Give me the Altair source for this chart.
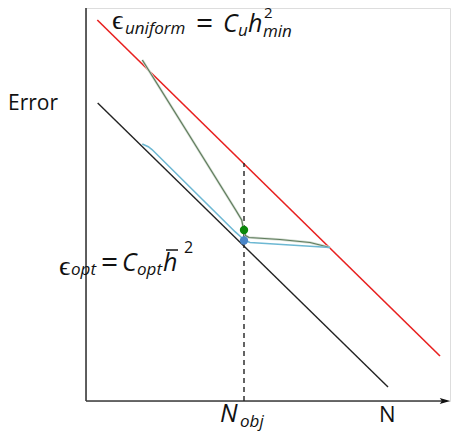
import altair as alt
import pandas as pd

# ---- data (abstract units: N to the right, Error upward) ----
red_n = [11.3, 354]
red_e = [381, 45]
black_n = [11.7, 302]
black_e = [298, 14]
grey_n = [56.3, 100, 150, 155.7, 157.5, 159.5, 163, 194, 224, 244]
grey_e = [341, 271, 190.5, 181, 172, 165.5, 163.5, 161.5, 158.5, 153.5]
blue_n = [56.3, 59, 62.3, 66, 149, 155, 159, 164, 204, 244]
blue_e = [257, 255.8, 254.3, 251.5, 169.3, 164, 160.5, 158.5, 156, 153.5]
n_obj = [158]
n_obj_top = [238]
green_pt = [158, 171]
blue_pt = [158, 160.5]
x_max = [364]
y_max = [393]

OX, OY = 86, 8  # plot origin in the page

W, H = 364, 393
xs = alt.Scale(domain=[0, W], nice=False, zero=False)
ys = alt.Scale(domain=[0, H], nice=False, zero=False)
X = lambda f: alt.X(f, type="quantitative", scale=xs, axis=None)
Y = lambda f: alt.Y(f, type="quantitative", scale=ys, axis=None)


def line_df(ns, es):
    return pd.DataFrame({"n": ns, "e": es, "i": range(len(ns))})


axes_df = pd.DataFrame({"n": [0, 0], "e": [0, 0], "n2": [x_max[0] - 3, 0], "e2": [0, y_max[0]]})
axes = alt.Chart(axes_df).mark_rule(color="#3a3a3a", strokeWidth=1.6).encode(
    x=X("n"), y=Y("e"), x2="n2", y2="e2")
arrow = alt.Chart(pd.DataFrame({"n": [x_max[0] - 5], "e": [0]})).mark_point(
    shape="M-1,-0.55L1,0L-1,0.55L-0.6,0Z", filled=True, color="#111", size=110, opacity=1
).encode(x=X("n"), y=Y("e"))

red = alt.Chart(line_df(red_n, red_e)).mark_line(color="#e8201f", strokeWidth=1.6).encode(
    x=X("n"), y=Y("e"), order="i")
black = alt.Chart(line_df(black_n, black_e)).mark_line(color="#222222", strokeWidth=1.4).encode(
    x=X("n"), y=Y("e"), order="i")

dash_df = pd.DataFrame({"n": n_obj, "e": [0], "e2": n_obj_top})
dashed = alt.Chart(dash_df).mark_rule(color="#222", strokeWidth=1.4, strokeDash=[5, 4]).encode(
    x=X("n"), y=Y("e"), y2="e2")

grey_halo = alt.Chart(line_df(grey_n, grey_e)).mark_line(
    color="#d3ddd2", strokeWidth=2.4).encode(x=X("n"), y=Y("e"), order="i")
grey = alt.Chart(line_df(grey_n, grey_e)).mark_line(
    color="#5f7b5c", strokeWidth=1.2).encode(x=X("n"), y=Y("e"), order="i")
blue = alt.Chart(line_df(blue_n, blue_e)).mark_line(
    color="#6db8d3", strokeWidth=1.6).encode(x=X("n"), y=Y("e"), order="i")

pts_df = pd.DataFrame({"n": [green_pt[0], blue_pt[0]], "e": [green_pt[1], blue_pt[1]],
                       "c": ["#0a870a", "#4a86c8"]})
pts = alt.Chart(pts_df).mark_circle(size=70, opacity=1).encode(
    x=X("n"), y=Y("e"), color=alt.Color("c:N", scale=None))

# ---- text pieces: text, page x, page baseline y, font size, italic ----
texts = [
    ("Error", 8, 110, 21, False),
    ("\u03f5", 112, 29, 28, False),
    ("uniform", 125, 34, 17, True),
    ("=", 196, 33, 30, False),
    ("C", 223, 32, 25, True),
    ("u", 238, 36, 17, True),
    ("h", 248, 32, 25, True),
    ("2", 264, 18, 15, False),
    ("min", 263, 37, 17, True),
    ("\u03f5", 59, 275, 28, False),
    ("opt", 71, 275, 17, True),
    ("=", 101, 272, 30, False),
    ("C", 122, 271, 25, True),
    ("opt", 137, 275, 17, True),
    ("h", 163, 271, 25, True),
    ("2", 184, 253, 16, False),
    ("N", 220, 422, 25, True),
    ("obj", 240, 427, 17, True),
    ("N", 379, 422, 22, False),
]
tdf = pd.DataFrame({
    "t": [t[0] for t in texts],
    "px": [t[1] - OX for t in texts],
    "py": [t[2] - OY for t in texts],
    "s": [t[3] for t in texts],
    "it": [t[4] for t in texts],
})


def text_layer(df, style):
    return alt.Chart(df).mark_text(
        align="left", baseline="alphabetic", font="Open Sans", fontStyle=style, color="#111"
    ).encode(
        x=alt.X("px:Q", scale=None), y=alt.Y("py:Q", scale=None),
        text="t:N", size=alt.Size("s:Q", scale=None, legend=None))


txt_up = text_layer(tdf[~tdf["it"]], "normal")
txt_it = text_layer(tdf[tdf["it"]], "italic")

# bar over h (page coords)
bar = alt.Chart(pd.DataFrame({"a": [166 - OX], "b": [178 - OX], "y": [250 - OY]})).mark_rule(
    color="#111", strokeWidth=1.5).encode(x=alt.X("a:Q", scale=None), x2="b:Q",
                                          y=alt.Y("y:Q", scale=None))

chart = alt.layer(
    axes, arrow, red, black, dashed, grey_halo, grey, blue, pts, txt_up, txt_it, bar
).properties(
    width=W, height=H,
    autosize=alt.AutoSizeParams(type="none"),
    padding={"left": OX, "top": OY, "right": 452 - OX - W, "bottom": 437 - OY - H},
).configure_view(stroke=None).configure(background="white")

chart.save("out.html", embed_options={"renderer": "svg", "actions": False})
